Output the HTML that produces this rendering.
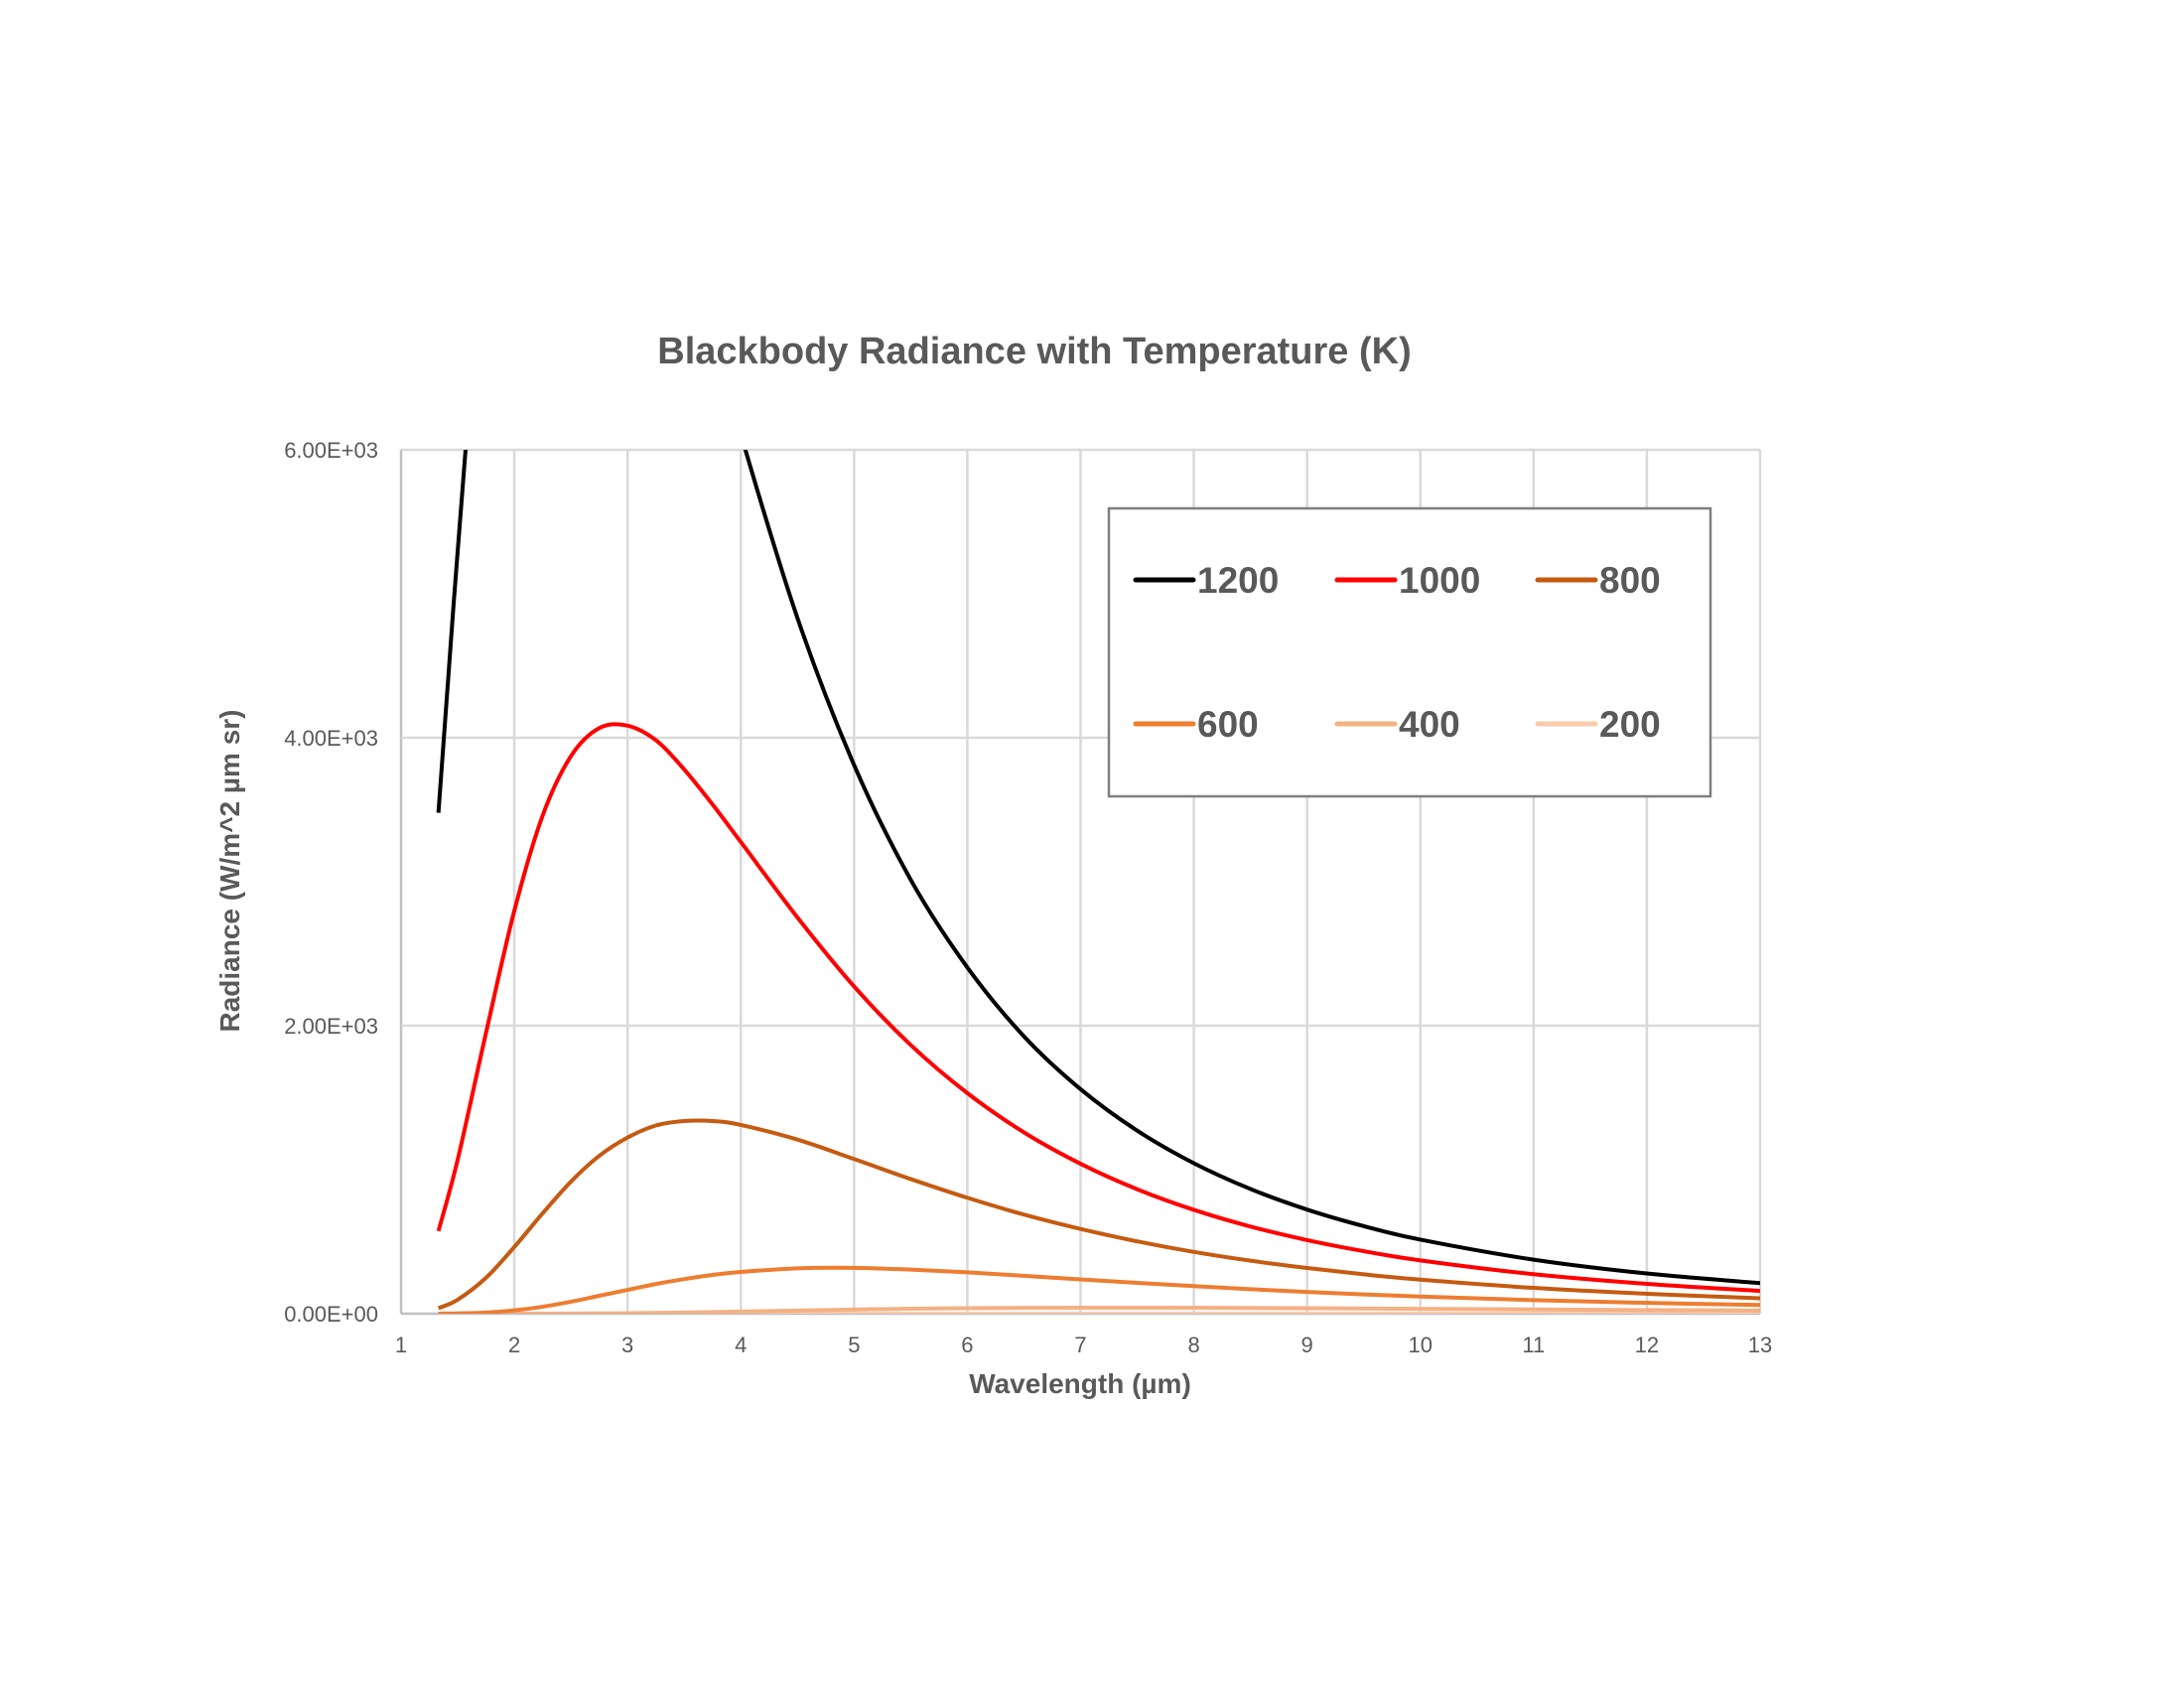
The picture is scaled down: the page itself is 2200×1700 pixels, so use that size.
<!DOCTYPE html>
<html><head><meta charset="utf-8"><style>
html,body{margin:0;padding:0;background:#fff}
svg{display:block}
text{font-family:"Liberation Sans",Arial,sans-serif;fill:#595959}
</style></head><body>
<svg id="chart" width="2200" height="1700" viewBox="0 0 2200 1700">
<defs><clipPath id="plotclip"><rect x="404" y="453" width="1369" height="870"/></clipPath></defs>
<text x="1042" y="366" text-anchor="middle" font-size="38" font-weight="bold">Blackbody Radiance with Temperature (K)</text>
<g id="grid"></g>
<g id="xticks"></g>
<g id="yticks"></g>
<text x="1088" y="1403" text-anchor="middle" font-size="28" font-weight="bold">Wavelength (µm)</text>
<text transform="translate(241,877) rotate(-90)" text-anchor="middle" font-size="28" font-weight="bold">Radiance (W/m^2 µm sr)</text>
<g id="series" clip-path="url(#plotclip)"></g>
<g>
<rect x="1117" y="512" width="606" height="290" fill="#fff" stroke="#7f7f7f" stroke-width="2.5"/>
<g id="legend-items"></g>
</g>
</svg>
<script>
const wavelengths=[1.33,1.5,1.75,2,2.25,2.5,2.75,3,3.25,3.5,3.75,4,4.5,5,5.5,6,6.5,7,7.5,8,8.5,9,9.5,10,11,12,13];
const s1200=[3479,5296,7689,9291,9950,10163,9800,9178,8450,7624,6850,6108,4832,3811,3014,2405,1926,1559,1271,1045,866,723,608,514,375,279,212];
const s1000=[574,1070,1950,2798,3459,3872,4067,4084,3983,3780,3537,3276,2752,2273,1866,1532,1259,1041,864,721,605,511,434,370,274,207,158];
const s800=[38,97,249,463,697,917,1096,1223,1307,1338,1338,1311,1209,1074,935,805,688,588,502,429,368,317,273,236,179,138,107];
const s600=[0.4,1.8,8.2,23,48,83,124,165,206,240,269,290,315,318,306,287,263,238,214,191,170,151,134,119,94,75,60];
const s400=[0,0,0,0.05,0.2,0.5,1.4,3,5,7.8,11,14.5,21.8,28.6,34.2,38.2,40.7,41.8,41.8,41,39.5,37.8,35.7,33.5,29.2,25.1,21.5];
const s200=[0,0,0,0,0,0,0,0,0,0,0,0,0,0.02,0.05,0.1,0.15,0.22,0.32,0.45,0.55,0.65,0.78,0.9,1.05,1.18,1.27];
const seriesNames=["1200","1000","800","600","400","200"];
const seriesColors=["#000000","#ff0000","#c55a11","#ed7d31","#f4b183","#f8cbad"];
const seriesData=[s1200,s1000,s800,s600,s400,s200];
const xTickLabels=["1","2","3","4","5","6","7","8","9","10","11","12","13"];
const yTickValues=[0,2000,4000,6000];
const yTickLabels=["0.00E+00","2.00E+03","4.00E+03","6.00E+03"];

const NS="http://www.w3.org/2000/svg";
const L=404,R=1773,T=453,B=1323,XMIN=1,XMAX=13,YMAX=6000;
const xs=v=>L+(v-XMIN)/(XMAX-XMIN)*(R-L);
const ys=v=>B-v/YMAX*(B-T);
function mk(tag,attrs,parent){const e=document.createElementNS(NS,tag);for(const k in attrs)e.setAttribute(k,attrs[k]);parent.appendChild(e);return e;}
const grid=document.getElementById('grid'),xt=document.getElementById('xticks'),yt=document.getElementById('yticks');
xTickLabels.forEach((lab,i)=>{const v=XMIN+i;const x=xs(v);
 const ln=mk('line',{x1:x,x2:x,y1:T,y2:B,stroke:(i===0?'#bfbfbf':'#d9d9d9'),'stroke-width':2.5},grid);
 
 
 const t=mk('text',{x:x,y:1362,'text-anchor':'middle','font-size':22},xt);t.textContent=lab;
 
 
});
yTickValues.forEach((v,i)=>{const y=ys(v);
 const ln=mk('line',{x1:L,x2:R,y1:y,y2:y,stroke:(i===0?'#bfbfbf':'#d9d9d9'),'stroke-width':2.5},grid);
 
 
 const t=mk('text',{x:381,y:y+8,'text-anchor':'end','font-size':22},yt);t.textContent=yTickLabels[i];
 
 
});
function smoothPath(pts){let d='M'+pts[0][0]+','+pts[0][1];
 for(let i=0;i<pts.length-1;i++){const p0=pts[Math.max(0,i-1)],p1=pts[i],p2=pts[i+1],p3=pts[Math.min(pts.length-1,i+2)];
  const c1x=p1[0]+(p2[0]-p0[0])/6,c1y=p1[1]+(p2[1]-p0[1])/6,c2x=p2[0]-(p3[0]-p1[0])/6,c2y=p2[1]-(p3[1]-p1[1])/6;
  d+=' C'+c1x+','+c1y+' '+c2x+','+c2y+' '+p2[0]+','+p2[1];}
 return d;}
const sg=document.getElementById('series');
for(let k=seriesData.length-1;k>=0;k--){
 const pts=wavelengths.map((w,i)=>[xs(w),ys(seriesData[k][i])]);
 const p=mk('path',{d:smoothPath(pts),fill:'none',stroke:seriesColors[k],'stroke-width':4,'stroke-linejoin':'round'},sg);
 
 
}
const lg=document.getElementById('legend-items');
const colX=[1144,1347,1549],rowY=[584,729];
seriesNames.forEach((n,i)=>{const x=colX[i%3],y=rowY[Math.floor(i/3)];
 const g=mk('g',{},lg);
 
 
 mk('line',{x1:x,x2:x+58,y1:y,y2:y,stroke:seriesColors[i],'stroke-width':5,'stroke-linecap':'round'},g);
 const t=mk('text',{x:x+62,y:y+13,'font-size':37,'font-weight':'bold'},g);t.textContent=n;
});
</script>
</body></html>
